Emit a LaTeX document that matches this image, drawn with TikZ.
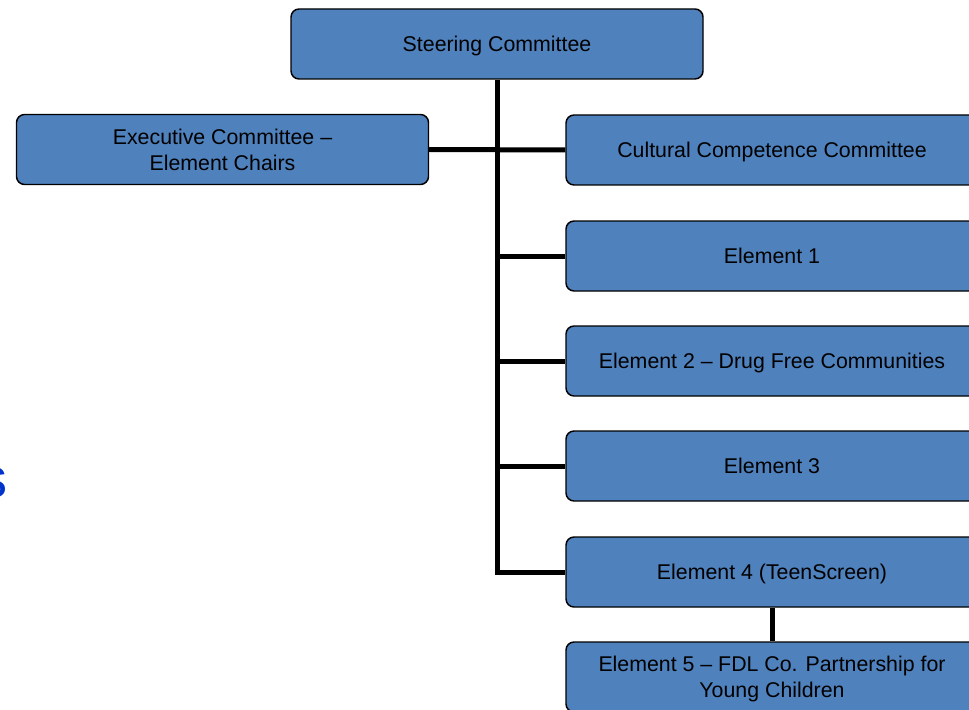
\documentclass[tikz,border=0pt]{standalone}
\usepackage{fontspec}
\setmainfont{Liberation Sans}
\usetikzlibrary{positioning}

\newlength{\du}
\setlength{\du}{0.75pt}

\definecolor{boxfill}{rgb}{0.310000, 0.506000, 0.741000}
\definecolor{sblue}{rgb}{0.000000, 0.200000, 0.800000}

\tikzset{
  orgbox/.style={draw=black, line width=1.1pt, fill=boxfill, rounded corners=8\du,
    minimum width=412\du, minimum height=70\du, inner sep=0pt, align=center,
    text depth=0pt, font=\fontsize{16pt}{19.5pt}\selectfont},
  conn/.style={draw=black, line width=3.75pt}
}

\begin{document}
\begin{tikzpicture}[x=\du, y=-\du]
\useasboundingbox (0,0) rectangle (969,709);
% top
\node[orgbox] (steer) at (497,44) {Steering Committee};
% left
\node[orgbox] (exec) at (222.5,149.5) {Executive Committee --\\Element Chairs};
% right column
\node[orgbox] (ccc) at (772,150) {Cultural Competence Committee};
\node[orgbox] (e1) at (772,256) {Element 1};
\node[orgbox] (e2) at (772,361) {Element 2 -- Drug Free Communities};
\node[orgbox] (e3) at (772,466) {Element 3};
\node[orgbox] (e4) at (772,572) {Element 4 (TeenScreen)};
\node[orgbox] (e5) at (772,677) {Element 5 -- FDL Co. Partnership for\\Young Children};
% cut off text at the left edge
\node[anchor=base east, inner sep=0pt, text=sblue, font=\fontsize{42pt}{42pt}\selectfont] (stext) at (8,497) {s};
% connectors
\coordinate (tend) at (steer.south |- e4.west);
\begin{scope}[on background layer/.try]
\draw[conn] (steer.south) -- (tend) -- (e4.west);
\draw[conn] (exec.east) -- (ccc.west);
\foreach \n in {e1,e2,e3}
  \draw[conn] (steer.south |- \n.west) -- (\n.west);
\draw[conn] (e4) -- (e5);
\end{scope}
\end{tikzpicture}
\end{document}
